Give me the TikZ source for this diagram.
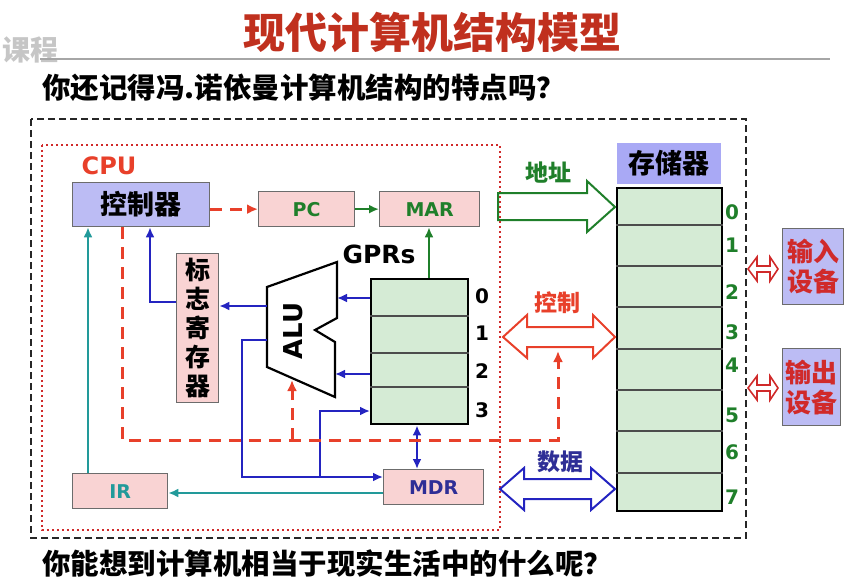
\documentclass[tikz,border=0pt]{standalone}
\usepackage{fontspec}
\setmainfont{DejaVu Sans}
\newfontfamily\cjk{Noto Sans CJK SC}
\usepackage{xcolor}
\usepackage{tikz}
\usetikzlibrary{arrows.meta}
\definecolor{titlered}{HTML}{C0301E}
\definecolor{dashred}{HTML}{E8402A}
\definecolor{dotred}{HTML}{D02A2A}
\definecolor{boxpink}{HTML}{F9D3D3}
\definecolor{boxlav}{HTML}{BCBCF4}
\definecolor{reggreen}{HTML}{D5EBD5}
\definecolor{txtgreen}{HTML}{1F7F2A}
\definecolor{lineteal}{HTML}{229A9A}
\definecolor{lineblue}{HTML}{2424C0}
\definecolor{txtblue}{HTML}{2E2E96}

\begin{document}
\begin{tikzpicture}[x=1pt,y=-1pt,
    box/.style={draw=gray!85!black,line width=1.3pt,anchor=north west,inner sep=0pt},
    pinkbox/.style={box,fill=boxpink,font=\fontsize{19}{21}\selectfont\bfseries},
    lavbox/.style={box,fill=boxlav,font=\cjk\bfseries\fontsize{26}{30}\selectfont},
    regblock/.style={draw=black,line width=2.4pt,fill=reggreen,anchor=north west,inner sep=0pt},
    bluearr/.style={lineblue,line width=2.6pt,-{Latex[length=10pt,width=9pt]}},
    bluedbl/.style={lineblue,line width=2.6pt,{Latex[length=10pt,width=9pt]}-{Latex[length=10pt,width=9pt]}},
    greenarr/.style={txtgreen,line width=2.6pt,-{Latex[length=10pt,width=9pt]}},
    tealarr/.style={lineteal,line width=2.8pt,-{Latex[length=10pt,width=9pt]}},
    reddash/.style={dashred,line width=3pt,dash pattern=on 12pt off 8pt},
    buslabel/.style={font=\cjk\bfseries\fontsize{23}{25}\selectfont},
    regnum/.style={font=\bfseries\fontsize{20}{22}\selectfont},
    memnum/.style={font=\bfseries\fontsize{20}{22}\selectfont,text=txtgreen}]
  \useasboundingbox (0,0) rectangle (857,583);
  % titles
  \node[font=\cjk\bfseries\fontsize{28}{30}\selectfont,text=gray!45] (mark) at (30,50) {课程};
  \draw[gray!70,line width=1.5pt] (40,59) -- (830,59);
  \node[font=\cjk\bfseries\fontsize{42}{44}\selectfont,text=titlered] (title) at (432,32) {现代计算机结构模型};
  \node[anchor=west,inner sep=0pt,font=\cjk\bfseries\fontsize{28.5}{30}\selectfont] (ask1) at (42,88) {你还记得冯.诺依曼计算机结构的特点吗？};
  \node[anchor=west,inner sep=0pt,font=\cjk\bfseries\fontsize{28.5}{30}\selectfont] (ask2) at (42,563) {你能想到计算机相当于现实生活中的什么呢？};
  % frames
  \draw[black!85,line width=2pt,dash pattern=on 7pt off 4pt] (31,119) rectangle (746,538);
  \draw[dotred,line width=2.4pt,dash pattern=on 2.4pt off 2.6pt] (42,145) rectangle (500,530);
  \node[font=\bfseries\fontsize{24}{26}\selectfont,text=dashred] (cpu) at (109,166) {CPU};
  % CPU parts
  \node[box,fill=boxlav,minimum width=137pt,minimum height=44pt,font=\cjk\bfseries\fontsize{27}{29}\selectfont] (ctrl) at (72,182) {控制器};
  \node[pinkbox,minimum width=96pt,minimum height=35pt,text=txtgreen] (pc) at (258,191) {PC};
  \node[pinkbox,minimum width=100pt,minimum height=35pt,text=txtgreen] (mar) at (379,191) {MAR};
  \node[pinkbox,minimum width=42pt,minimum height=149pt,align=center,font=\cjk\bfseries\fontsize{25}{29}\selectfont] (flag) at (176,253) {标\\志\\寄\\存\\器};
  \node[pinkbox,minimum width=95pt,minimum height=35pt,text=lineteal] (ir) at (72,473) {IR};
  \node[pinkbox,minimum width=100pt,minimum height=35pt,text=txtblue] (mdr) at (383,469) {MDR};
  % ALU
  \draw[line width=2.2pt,fill=white] (267,287) -- (337,262) -- (337,318) -- (315,330) -- (335,342) -- (335,397) -- (267,367) -- cycle;
  \node[rotate=90,font=\bfseries\fontsize{26}{28}\selectfont] (alu) at (293,331) {ALU};
  \coordinate (alu-r0) at (337,298);
  \coordinate (alu-r2) at (335,374);
  \coordinate (alu-l1) at (267,306);
  \coordinate (alu-l2) at (267,340);
  \coordinate (alu-b) at (292,380);
  % GPRs
  \node[regblock,minimum width=97pt,minimum height=145pt] (gpr) at (370,278) {};
  \foreach \y in {316,353,387}
    \draw[black!70,line width=1.4pt] (gpr.west |- 0,\y) -- (gpr.east |- 0,\y);
  \node[font=\bfseries\fontsize{25}{27}\selectfont] (gprs) at (379,254) {GPRs};
  \foreach \i/\y in {0/296,1/333,2/371,3/410}
    \node[regnum] (g\i) at (482,\y) {\i};
  % memory
  \node[box,fill=boxlav!90!blue,draw=none,minimum width=104pt,minimum height=41pt,font=\cjk\bfseries\fontsize{27}{29}\selectfont] (memhead) at (616,142) {存储器};
  \node[regblock,minimum width=105pt,minimum height=323pt] (mem) at (616,187) {};
  \foreach \y in {225,266,307,349,390,431,473}
    \draw[black!70,line width=1.4pt] (mem.west |- 0,\y) -- (mem.east |- 0,\y);
  \foreach \i/\y in {0/212,1/245,2/292,3/332,4/365,5/415,6/452,7/497}
    \node[memnum] (m\i) at (732,\y) {\i};
  % I/O
  \node[lavbox,minimum width=61pt,minimum height=76pt,align=center,text=dotred] (inp) at (782,228) {输入\\设备};
  \node[lavbox,minimum width=58pt,minimum height=77pt,align=center,text=dotred] (outp) at (782,348) {输出\\设备};
  \draw[dotred,line width=1.6pt,fill=white] (748,269) -- (757,257) -- (757,266) -- (770,266) -- (770,257) -- (778,269) -- (770,281) -- (770,272) -- (757,272) -- (757,281) -- cycle;
  \draw[dotred,line width=1.6pt,fill=white] (748,388) -- (757,376) -- (757,385) -- (770,385) -- (770,376) -- (778,388) -- (770,400) -- (770,391) -- (757,391) -- (757,400) -- cycle;
  % buses
  \draw[txtgreen,line width=2pt] (498,193) -- (587,193) -- (587,181) -- (615,207) -- (587,232) -- (587,220) -- (498,220) -- cycle;
  \node[buslabel,text=txtgreen] (addr) at (548,173) {地址};
  \draw[dashred,line width=2pt] (503,337) -- (527,315) -- (527,327) -- (593,327) -- (593,315) -- (615,337) -- (593,358) -- (593,347) -- (527,347) -- (527,358) -- cycle;
  \node[buslabel,text=dashred] (ctl) at (557,303) {控制};
  \draw[lineblue,line width=2pt] (500,489) -- (524,468) -- (524,479) -- (591,479) -- (591,468) -- (615,489) -- (591,510) -- (591,499) -- (524,499) -- (524,510) -- cycle;
  \node[buslabel,text=txtblue] (dat) at (560,462) {数据};
  % connectors
  \draw[reddash,-{Latex[length=11pt,width=10pt]}] (ctrl.east |- pc.west) -- (pc.west);
  \draw[greenarr] (pc.east) -- (mar.west);
  \draw[greenarr] (gpr.north -| 429,0) -- (mar.south -| 429,0);
  \draw[bluearr] (alu-l1) -- (flag.east |- alu-l1);
  \draw[bluearr] (flag.west |- 0,302) -| (ctrl.south -| 150,0);
  \draw[bluearr] (gpr.west |- alu-r0) -- (alu-r0);
  \draw[bluearr] (gpr.west |- alu-r2) -- (alu-r2);
  \draw[bluearr] (alu-l2) -| (242,477) -- (mdr.west |- 0,477);
  \draw[bluearr] (320,477) |- (gpr.west |- 0,411);
  \draw[bluedbl] (gpr.south -| 417,0) -- (mdr.north -| 417,0);
  \draw[tealarr] (mdr.west |- 0,493) -- (ir.east |- 0,493);
  \draw[tealarr] (ir.north -| 88,0) -- (ctrl.south -| 88,0);
  \draw[reddash,-{Latex[length=11pt,width=10pt]}] (ctrl.south -| 122,0) |- (558,440) -- (558,351);
  \draw[reddash,-{Latex[length=11pt,width=10pt]}] (292,440) -- (alu-b);
\end{tikzpicture}
\end{document}
